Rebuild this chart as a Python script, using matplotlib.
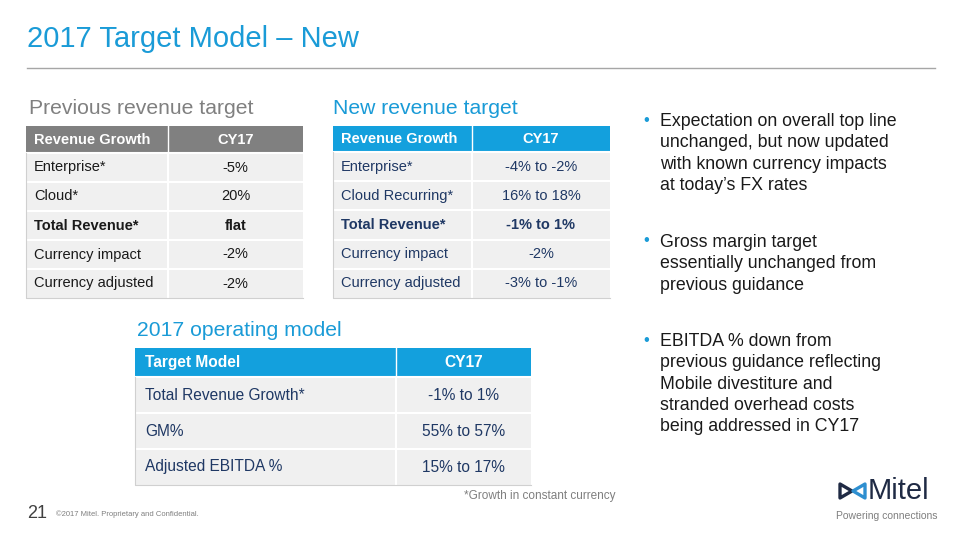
import matplotlib.pyplot as plt
from matplotlib.patches import Rectangle, Polygon

plt.rcParams['font.family'] = ['Liberation Sans', 'DejaVu Sans']

BLUE = '#1a9bd7'
HEADER_BLUE = '#13a0dd'
GRAY = '#808080'
ROW = '#f0f0f0'
NAVY = '#1f2a44'

# table data
prev_header = ['Revenue Growth', 'CY17']
prev_labels = ['Enterprise*', 'Cloud*', 'Total Revenue*', 'Currency impact', 'Currency adjusted']
prev_values = ['-5%', '20%', 'flat', '-2%', '-2%']

new_header = ['Revenue Growth', 'CY17']
new_labels = ['Enterprise*', 'Cloud Recurring*', 'Total Revenue*', 'Currency impact', 'Currency adjusted']
new_values = ['-4% to -2%', '16% to 18%', '-1% to 1%', '-2%', '-3% to -1%']

op_header = ['Target Model', 'CY17']
op_labels = ['Total Revenue Growth*', 'GM%', 'Adjusted EBITDA %']
op_values = ['-1% to 1%', '55% to 57%', '15% to 17%']

bold_row = 'Total Revenue*'

bullets = [
    'Expectation on overall top line\nunchanged, but now updated\nwith known currency impacts\nat today\u2019s FX rates',
    'Gross margin target\nessentially unchanged from\nprevious guidance',
    'EBITDA % down from\nprevious guidance reflecting\nMobile divestiture and\nstranded overhead costs\nbeing addressed in CY17',
]

fig = plt.figure(figsize=(9.6, 5.4), dpi=100)
ax = fig.add_axes([0, 0, 1, 1])
ax.set_xlim(0, 960)
ax.set_ylim(540, 0)
ax.axis('off')


def draw_table(x0, x1, xdiv, y0, head_h, row_h, header, labels, values,
               head_color, text_color, fs, pad=10):
    ax.add_patch(Rectangle((x0, y0), x1 - x0, head_h, color=head_color, lw=0))
    ax.plot([xdiv, xdiv], [y0, y0 + head_h], color='white', lw=1)
    ax.text(x0 + pad, y0 + head_h / 2, header[0], color='white', fontsize=fs,
            fontweight='bold', va='center', ha='left')
    ax.text((xdiv + x1) / 2, y0 + head_h / 2, header[1], color='white', fontsize=fs,
            fontweight='bold', va='center', ha='center')
    y = y0 + head_h
    for lab, val in zip(labels, values):
        ax.add_patch(Rectangle((x0, y), x1 - x0, row_h, color=ROW, lw=0))
        ax.plot([x0, x1], [y, y], color='white', lw=1.5)
        ax.plot([xdiv, xdiv], [y, y + row_h], color='white', lw=1.5)
        w = 'bold' if lab == bold_row else 'normal'
        ax.text(x0 + pad, y + row_h / 2, lab, color=text_color, fontsize=fs,
                fontweight=w, va='center', ha='left')
        ax.text((xdiv + x1) / 2, y + row_h / 2, val, color=text_color, fontsize=fs,
                fontweight=w, va='center', ha='center')
        y += row_h
    # faint left and bottom border
    ax.plot([x0, x0, x1], [y0 + head_h, y, y], color='#d0d0d0', lw=0.8)


# title and rule
ax.text(27, 39, '2017 Target Model \u2013 New', color=BLUE, fontsize=21, va='center', ha='left')
ax.plot([27, 935], [68, 68], color='#a6a6a6', lw=1)

# section titles
ax.text(29, 108, 'Previous revenue target', color=GRAY, fontsize=15.2, va='center', ha='left')
ax.text(333, 108, 'New revenue target', color=BLUE, fontsize=15.2, va='center', ha='left')
ax.text(137, 330, '2017 operating model', color=BLUE, fontsize=15.2, va='center', ha='left')

draw_table(26, 303, 168, 126, 27, 29, prev_header, prev_labels, prev_values,
           GRAY, '#1a1a1a', 10.5, pad=8)
draw_table(333, 610, 472, 126, 26, 29.2, new_header, new_labels, new_values,
           HEADER_BLUE, '#1f3864', 10.5, pad=8)
draw_table(135, 531, 396, 348, 29, 36, op_header, op_labels, op_values,
           HEADER_BLUE, '#1f3864', 11.2, pad=10)

# bullets
bullet_y = [120, 241, 340]
for yb, txt in zip(bullet_y, bullets):
    ax.text(646, yb, '\u2022', color=BLUE, fontsize=12, va='center', ha='center')
    ax.text(660, yb - 7, txt, color='#1a1a1a', fontsize=12.8, va='top', ha='left',
            linespacing=1.33)

# footnote and footer
ax.text(615, 496, '*Growth in constant currency', color='#7f7f7f', fontsize=8.5,
        va='center', ha='right')
ax.text(27, 513, '21', color='#404040', fontsize=13, va='center', ha='left')
ax.text(56, 514, '\u00a92017 Mitel. Proprietary and Confidential.', color='#7f7f7f',
        fontsize=5.5, va='center', ha='left')

# Mitel logo
ax.add_patch(Polygon([[840, 484], [852, 491], [840, 498]], closed=True, fill=False,
                     edgecolor=NAVY, lw=2.4, joinstyle='round'))
ax.add_patch(Polygon([[865, 484], [853, 491], [865, 498]], closed=True, fill=False,
                     edgecolor='#2e8fd0', lw=2.4, joinstyle='round'))
ax.text(868, 491, 'Mitel', color=NAVY, fontsize=21, va='center', ha='left')
ax.text(938, 516, 'Powering connections', color='#7f7f7f', fontsize=7.5,
        va='center', ha='right')

fig.savefig('out.png', dpi=100)
